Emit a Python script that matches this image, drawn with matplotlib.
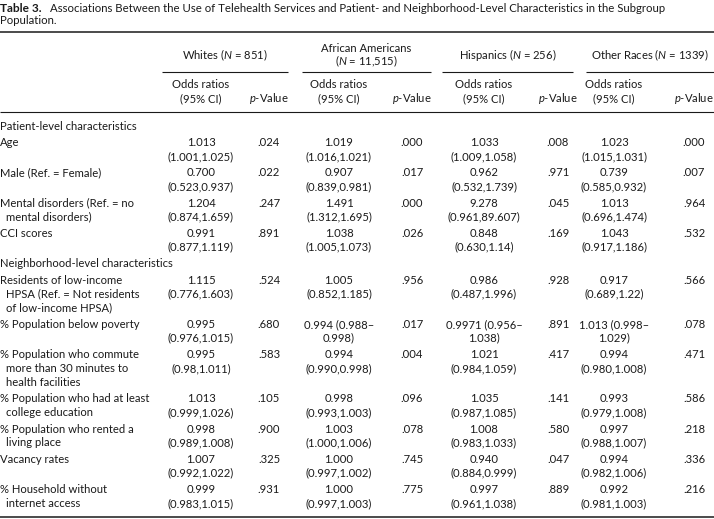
import matplotlib
matplotlib.use("Agg")
import matplotlib.pyplot as plt

plt.rcParams['font.family'] = ['Lato', 'DejaVu Sans']
plt.rcParams['mathtext.fontset'] = 'custom'
plt.rcParams['mathtext.rm'] = 'Lato'
plt.rcParams['mathtext.it'] = 'Lato:italic'

# ---- table content ----
title_bold = "Table 3."
title_rest = ("Associations Between the Use of Telehealth Services and Patient- and "
              "Neighborhood-Level Characteristics in the Subgroup")
title_line2 = "Population."

groups = ["Whites ($N$ = 851)", "African Americans\n($N$ = 11,515)",
          "Hispanics ($N$ = 256)", "Other Races ($N$ = 1339)"]
sub_or = "Odds ratios\n(95% CI)"
sub_p = "$p$-Value"

sections = {0: "Patient-level characteristics", 4: "Neighborhood-level characteristics"}

labels = [
    ["Age"],
    ["Male (Ref. = Female)"],
    ["Mental disorders (Ref. = no", "mental disorders)"],
    ["CCI scores"],
    ["Residents of low-income", "HPSA (Ref. = Not residents", "of low-income HPSA)"],
    ["% Population below poverty"],
    ["% Population who commute", "more than 30 minutes to", "health facilities"],
    ["% Population who had at least", "college education"],
    ["% Population who rented a", "living place"],
    ["Vacancy rates"],
    ["% Household without", "internet access"],
]

whites_or = [
    ["1.013", "(1.001,1.025)"], ["0.700", "(0.523,0.937)"], ["1.204", "(0.874,1.659)"],
    ["0.991", "(0.877,1.119)"], ["1.115", "(0.776,1.603)"], ["0.995", "(0.976,1.015)"],
    ["0.995", "(0.98,1.011)"], ["1.013", "(0.999,1.026)"], ["0.998", "(0.989,1.008)"],
    ["1.007", "(0.992,1.022)"], ["0.999", "(0.983,1.015)"],
]
whites_p = [".024", ".022", ".247", ".891", ".524", ".680", ".583", ".105", ".900", ".325", ".931"]

african_or = [
    ["1.019", "(1.016,1.021)"], ["0.907", "(0.839,0.981)"], ["1.491", "(1.312,1.695)"],
    ["1.038", "(1.005,1.073)"], ["1.005", "(0.852,1.185)"], ["0.994 (0.988\u2013", "0.998)"],
    ["0.994", "(0.990,0.998)"], ["0.998", "(0.993,1.003)"], ["1.003", "(1.000,1.006)"],
    ["1.000", "(0.997,1.002)"], ["1.000", "(0.997,1.003)"],
]
african_p = [".000", ".017", ".000", ".026", ".956", ".017", ".004", ".096", ".078", ".745", ".775"]

hispanic_or = [
    ["1.033", "(1.009,1.058)"], ["0.962", "(0.532,1.739)"], ["9.278", "(0.961,89.607)"],
    ["0.848", "(0.630,1.14)"], ["0.986", "(0.487,1.996)"], ["0.9971 (0.956\u2013", "1.038)"],
    ["1.021", "(0.984,1.059)"], ["1.035", "(0.987,1.085)"], ["1.008", "(0.983,1.033)"],
    ["0.940", "(0.884,0.999)"], ["0.997", "(0.961,1.038)"],
]
hispanic_p = [".008", ".971", ".045", ".169", ".928", ".891", ".417", ".141", ".580", ".047", ".889"]

other_or = [
    ["1.023", "(1.015,1.031)"], ["0.739", "(0.585,0.932)"], ["1.013", "(0.696,1.474)"],
    ["1.043", "(0.917,1.186)"], ["0.917", "(0.689,1.22)"], ["1.013 (0.998\u2013", "1.029)"],
    ["0.994", "(0.980,1.008)"], ["0.993", "(0.979,1.008)"], ["0.997", "(0.988,1.007)"],
    ["0.994", "(0.982,1.006)"], ["0.992", "(0.981,1.003)"],
]
other_p = [".000", ".007", ".964", ".532", ".566", ".078", ".471", ".586", ".218", ".336", ".216"]

ors = [whites_or, african_or, hispanic_or, other_or]
ps = [whites_p, african_p, hispanic_p, other_p]

# ---- layout (pixels) ----
W, H = 714, 519
FS = 8.1
TFS = 8.2
INK = "#1a1a1a"
or_x = [201, 339, 484, 614]
p_x = [269, 412, 558, 694]
span = [(162, 288), (302, 431), (442, 573), (586, 714)]
LINE, GAP = 13.8, 2.7
INDENT = 6

fig = plt.figure(figsize=(W / 100, H / 100), dpi=100)
ax = fig.add_axes([0, 0, 1, 1])
ax.set_xlim(0, W)
ax.set_ylim(H, 0)
ax.axis("off")


def txt(x, y, s, ha="left", **kw):
    return ax.text(x, y, s, ha=ha, va="center", fontsize=kw.pop("fs", FS),
                   color=INK, **kw)


# title
tb = txt(0, 8, title_bold, fontweight="bold", fs=TFS + 0.4)
fig.canvas.draw()
bb = tb.get_window_extent()
txt(bb.x1 + 8, 8, title_rest, fs=TFS)
txt(0, 21, title_line2, fs=TFS)

# rules
ax.hlines(32, 0, W, color=INK, lw=1.1)
ax.hlines(112, 0, W, color=INK, lw=0.8)
ax.hlines(517, 0, W, color=INK, lw=1.1)
for x0, x1 in span:
    ax.hlines(72, x0, x1, color=INK, lw=0.8)

# header
for i, g in enumerate(groups):
    cx = (span[i][0] + span[i][1]) / 2
    if "\n" in g:
        top, bot = g.split("\n")
        txt(cx, 48, top, ha="center")
        txt(cx, 61.5, bot, ha="center")
    else:
        txt(cx, 55, g, ha="center")
    a, b = sub_or.split("\n")
    txt(or_x[i], 85, a, ha="center")
    txt(or_x[i], 99, b, ha="center")
    txt(p_x[i], 99, sub_p, ha="center")

# body
y = 126
for r in range(len(labels)):
    if r in sections:
        if r > 0:
            y += LINE + GAP
        txt(0, y, sections[r])
        y += LINE + GAP
    for k, line in enumerate(labels[r]):
        txt(0 if k == 0 else INDENT, y + k * LINE, line)
    for i in range(4):
        for k, line in enumerate(ors[i][r]):
            txt(or_x[i], y + k * LINE, line, ha="center")
        txt(p_x[i], y, ps[i][r], ha="center")
    n = max(len(labels[r]), 2)
    y += (n - 1) * LINE
    if r + 1 < len(labels) and (r + 1) not in sections:
        y += LINE + GAP

fig.savefig("out.png", dpi=100, facecolor="white")
